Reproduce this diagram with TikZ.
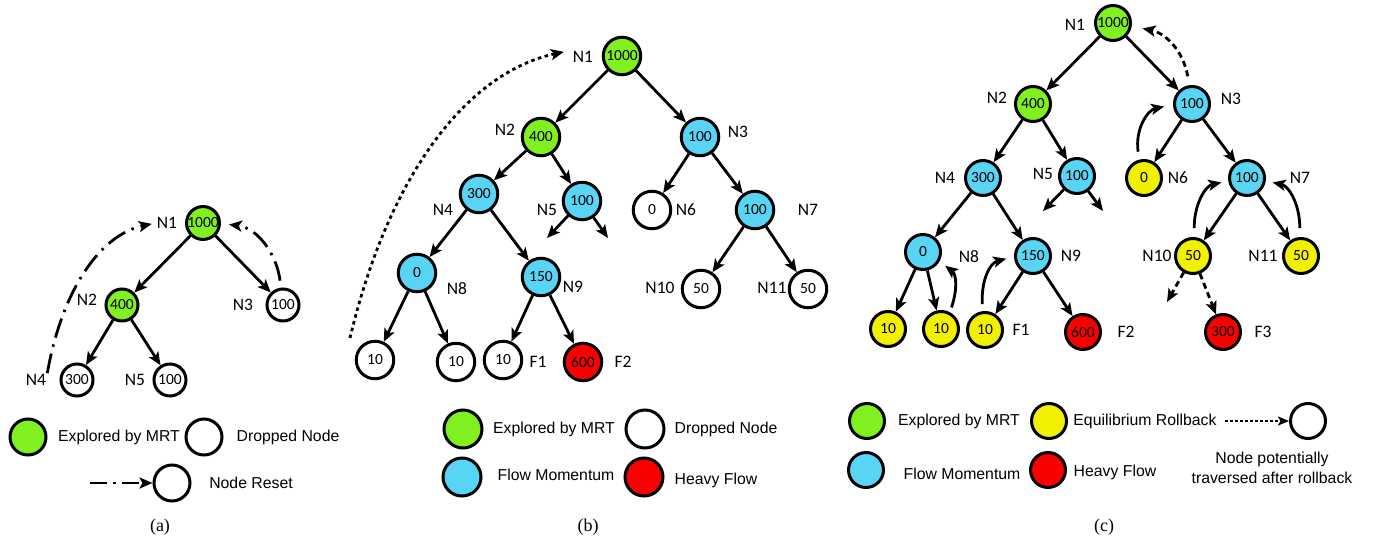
\documentclass[tikz,border=0pt]{standalone}
\usepackage{fontspec}
\setmainfont{Liberation Serif}
\newfontfamily\calfam{Carlito}
\newfontfamily\arialfam{Liberation Sans}
\usetikzlibrary{arrows.meta}

\definecolor{mrtgreen}{RGB}{128,240,32}
\definecolor{flowblue}{RGB}{88,212,245}
\definecolor{rollyellow}{RGB}{240,240,0}
\definecolor{heavyred}{RGB}{250,0,0}

\newcommand\valfont{\calfam\fontsize{15.5}{15.5}\selectfont}
\newcommand\labfont{\calfam\fontsize{17.5}{17.5}\selectfont}
\newcommand\legfont{\arialfam\fontsize{15.8}{20}\selectfont}

\begin{document}
\begin{tikzpicture}[x=1pt,y=-1pt,
  nd/.style={circle,draw=black,line width=3pt,inner sep=0pt,font=\valfont},
  sa/.style={nd,minimum size=32pt},
  sb/.style={nd,minimum size=37.5pt},
  sc/.style={nd,minimum size=35pt},
  sl/.style={nd,minimum size=36pt},
  explored/.style={fill=mrtgreen},
  momentum/.style={fill=flowblue},
  dropped/.style={fill=white},
  rollback/.style={fill=rollyellow},
  heavy/.style={fill=heavyred},
  lab/.style={font=\labfont,inner sep=1pt},
  legtxt/.style={font=\legfont,inner sep=1pt},
  capt/.style={font=\fontsize{18}{18}\selectfont},
  edge/.style={line width=2.8pt,-{Stealth[length=13pt,width=11pt,inset=3pt]}},
  dashdot/.style={edge,dash pattern=on 20pt off 7pt on 2.5pt off 7pt},
  dotline/.style={edge,dash pattern=on 3.5pt off 3.5pt},
  dashline/.style={edge,dash pattern=on 6pt off 4pt},
]
\useasboundingbox (0,0) rectangle (1377,541);

% ---------------- panel (a) ----------------
\node[sa,explored] (a1) at (203,223) {1000};
\node[sa,explored] (a2) at (122,305) {400};
\node[sa,dropped]  (a3) at (283,305) {100};
\node[sa,dropped]  (a4) at (77,380)  {300};
\node[sa,dropped]  (a5) at (170,380) {100};
\node[lab] (la1) at (167,223) {N1};
\node[lab] (la2) at (87,300)  {N2};
\node[lab] (la3) at (243,305) {N3};
\node[lab] (la4) at (36,380)  {N4};
\node[lab] (la5) at (135,380) {N5};
\draw[edge] (a1) -- (a2);
\draw[edge] (a1) -- (a3);
\draw[edge] (a2) -- (a4);
\draw[edge] (a2) -- (a5);
\draw[dashdot,shorten >=4pt] (la4.north east) .. controls (62,290) and (100,235) .. (la1.west);
\draw[dashdot,shorten <=7pt,shorten >=8pt] (a3.97) .. controls (277,255) and (258,228) .. (a1.-2);

\node[sl,explored] (ka1) at (28,437) {};
\node[legtxt] (ta1) at (119,437) {Explored by MRT};
\node[sl,dropped] (ka2) at (204,437) {};
\node[legtxt] (ta2) at (288,437) {Dropped Node};
\coordinate (kr0) at (90,483);
\node[sl,dropped] (ka3) at (172,483) {};
\draw[dashdot,dash pattern=on 17pt off 6pt on 2.5pt off 6pt] (kr0) -- (ka3);
\node[legtxt] (ta3) at (251,483) {Node Reset};
\node[capt] (capa) at (160,527) {(a)};

% ---------------- panel (b) ----------------
\node[sb,explored] (b1) at (622,56)  {1000};
\node[sb,explored] (b2) at (541,137) {400};
\node[sb,momentum] (b3) at (700,137) {100};
\node[sb,momentum] (b4) at (479,194) {300};
\node[sb,momentum] (b5) at (582,201) {100};
\node[sb,dropped]  (b6) at (652,210) {0};
\node[sb,momentum] (b7) at (755,210) {100};
\node[sb,momentum] (b8) at (417,273) {0};
\node[sb,momentum] (b9) at (541,277) {150};
\node[sb,dropped]  (b10) at (701,289) {50};
\node[sb,dropped]  (b11) at (808,289) {50};
\node[sb,dropped]  (b12) at (375,360) {10};
\node[sb,dropped]  (b13) at (456,362) {10};
\node[sb,dropped]  (b14) at (503,360) {10};
\node[sb,heavy]    (b15) at (583,362) {600};
\node[lab] (lb1) at (583,57)  {N1};
\node[lab] (lb2) at (505,130) {N2};
\node[lab] (lb3) at (738,132) {N3};
\node[lab] (lb4) at (443,210) {N4};
\node[lab] (lb5) at (547,210) {N5};
\node[lab] (lb6) at (686,210) {N6};
\node[lab] (lb7) at (808,210) {N7};
\node[lab] (lb8) at (457,289) {N8};
\node[lab] (lb9) at (573,287) {N9};
\node[lab] (lb10) at (660,288) {N10};
\node[lab] (lb11) at (772,288) {N11};
\node[lab] (lbf1) at (538,362) {F1};
\node[lab] (lbf2) at (623,362) {F2};
\coordinate (b5l) at (547,238);
\coordinate (b5r) at (608,238);
\coordinate (bret) at (350,338);
\draw[edge] (b1) -- (b2);
\draw[edge] (b1) -- (b3);
\draw[edge] (b2) -- (b4);
\draw[edge] (b2) -- (b5);
\draw[edge] (b3) -- (b6);
\draw[edge] (b3) -- (b7);
\draw[edge] (b4) -- (b8);
\draw[edge] (b4) -- (b9);
\draw[edge] (b5) -- (b5l);
\draw[edge] (b5) -- (b5r);
\draw[edge] (b7) -- (b10);
\draw[edge] (b7) -- (b11);
\draw[edge] (b8) -- (b12);
\draw[edge] (b8) -- (b13);
\draw[edge] (b9) -- (b14);
\draw[edge] (b9) -- (b15);
\draw[dotline,shorten >=8pt] (bret) .. controls (390,170) and (470,72) .. (lb1.north west);

\node[sl,explored,minimum size=38pt] (kb1) at (463,429) {};
\node[legtxt] (tb1) at (554,429) {Explored by MRT};
\node[sl,dropped,minimum size=38pt] (kb2) at (645,429) {};
\node[legtxt] (tb2) at (726,429) {Dropped Node};
\node[sl,momentum,minimum size=38pt] (kb3) at (462,477) {};
\node[legtxt] (tb3) at (556,475) {Flow Momentum};
\node[sl,heavy,minimum size=38pt] (kb4) at (644,477) {};
\node[legtxt] (tb4) at (716,480) {Heavy Flow};
\node[capt] (capb) at (588,527) {(b)};

% ---------------- panel (c) ----------------
\node[sc,explored] (c1) at (1113,23)  {1000};
\node[sc,explored] (c2) at (1033,104) {400};
\node[sc,momentum] (c3) at (1192,104) {100};
\node[sc,momentum] (c4) at (983,178)  {300};
\node[sc,momentum] (c5) at (1077,176) {100};
\node[sc,rollback] (c6) at (1144,178) {0};
\node[sc,momentum] (c7) at (1247,178) {100};
\node[sc,momentum] (c8) at (923,252)  {0};
\node[sc,momentum] (c9) at (1033,256) {150};
\node[sc,rollback] (c10) at (1193,256) {50};
\node[sc,rollback] (c11) at (1301,256) {50};
\node[sc,rollback] (c12) at (888,329)  {10};
\node[sc,rollback] (c13) at (941,329)  {10};
\node[sc,rollback] (c14) at (985,330)  {10};
\node[sc,heavy]    (c15) at (1083,332) {600};
\node[sc,heavy]    (c16) at (1223,332) {300};
\node[lab] (lc1) at (1075,25)  {N1};
\node[lab] (lc2) at (997,98)   {N2};
\node[lab] (lc3) at (1231,99)  {N3};
\node[lab] (lc4) at (945,178)  {N4};
\node[lab] (lc5) at (1043,174) {N5};
\node[lab] (lc6) at (1178,178) {N6};
\node[lab] (lc7) at (1300,178) {N7};
\node[lab] (lc8) at (969,257)  {N8};
\node[lab] (lc9) at (1071,256) {N9};
\node[lab] (lc10) at (1157,256) {N10};
\node[lab] (lc11) at (1263,256) {N11};
\node[lab] (lcf1) at (1021,330) {F1};
\node[lab] (lcf2) at (1126,332) {F2};
\node[lab] (lcf3) at (1263,332) {F3};
\coordinate (c5l) at (1043,211);
\coordinate (c5r) at (1103,211);
\coordinate (c10l) at (1167,302);
\draw[edge] (c1) -- (c2);
\draw[edge] (c1) -- (c3);
\draw[edge] (c2) -- (c4);
\draw[edge] (c2) -- (c5);
\draw[edge] (c3) -- (c6);
\draw[edge] (c3) -- (c7);
\draw[edge] (c4) -- (c8);
\draw[edge] (c4) -- (c9);
\draw[edge] (c5) -- (c5l);
\draw[edge] (c5) -- (c5r);
\draw[edge] (c7) -- (c10);
\draw[edge] (c7) -- (c11);
\draw[edge] (c8) -- (c12);
\draw[edge] (c8) -- (c13);
\draw[edge] (c9) -- (c14);
\draw[edge] (c9) -- (c15);
\draw[dashline] (c10) -- (c10l);
\draw[dashline] (c10) -- (c16);
% rollback returns
\draw[edge,shorten <=5pt,shorten >=7pt] (c13.62) .. controls (958,288) and (956,274) .. (c8.-30);
\draw[edge,shorten <=7pt,shorten >=8pt] (c14.97) .. controls (981,280) and (990,263) .. (c9.182);
\draw[edge,shorten <=8pt,shorten >=9pt] (c6.105) .. controls (1135,128) and (1148,110) .. (c3.182);
\draw[edge,shorten <=9pt,shorten >=7pt] (c10.86) .. controls (1194,205) and (1205,186) .. (c7.189);
\draw[edge,shorten <=9pt,shorten >=7pt] (c11.94) .. controls (1300,205) and (1289,186) .. (c7.-9);
\draw[dashline,shorten <=9pt,shorten >=11pt] (c3.98) .. controls (1183,50) and (1165,33) .. (c1.-10);

\node[sl,explored,minimum size=35pt] (kc1) at (867,421) {};
\node[legtxt] (tc1) at (959,421) {Explored by MRT};
\node[sl,rollback,minimum size=35pt] (kc2) at (1049,421) {};
\node[legtxt] (tc2) at (1145,421) {Equilibrium Rollback};
\coordinate (kc0) at (1225,421);
\node[sl,dropped,minimum size=35pt] (kc3) at (1308,421) {};
\draw[line width=2pt,dash pattern=on 3pt off 2pt,-{Stealth[length=11pt,width=9pt,inset=2.5pt]}] (kc0) -- (kc3);
\node[legtxt,align=center] (tc3) at (1272,468) {Node potentially\\traversed after rollback};
\node[sl,momentum,minimum size=35pt] (kc4) at (866,470) {};
\node[legtxt] (tc4) at (962,474) {Flow Momentum};
\node[sl,heavy,minimum size=35pt] (kc5) at (1048,470) {};
\node[legtxt] (tc5) at (1115,472) {Heavy Flow};
\node[capt] (capc) at (1104,527) {(c)};
\end{tikzpicture}
\end{document}
